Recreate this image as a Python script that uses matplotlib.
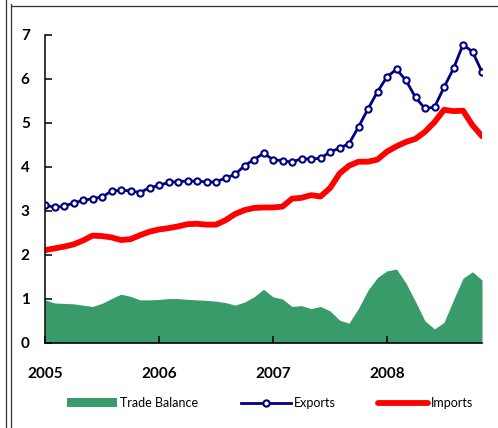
import matplotlib
matplotlib.use("Agg")
import matplotlib.pyplot as plt
from matplotlib.lines import Line2D
import numpy as np

# monthly values, Jan 2005 .. Nov 2008
exports = [3.14, 3.08, 3.11, 3.18, 3.24, 3.28, 3.32, 3.45, 3.47, 3.46, 3.42, 3.53,
           3.58, 3.65, 3.67, 3.68, 3.68, 3.66, 3.66, 3.75, 3.83, 4.03, 4.17, 4.31,
           4.17, 4.14, 4.11, 4.19, 4.18, 4.20, 4.34, 4.43, 4.53, 4.91, 5.32, 5.71,
           6.05, 6.22, 5.97, 5.58, 5.33, 5.36, 5.81, 6.24, 6.78, 6.62, 6.16]
imports = [2.11, 2.15, 2.19, 2.24, 2.33, 2.44, 2.43, 2.40, 2.34, 2.36, 2.45, 2.53,
           2.58, 2.61, 2.65, 2.70, 2.71, 2.69, 2.69, 2.79, 2.93, 3.02, 3.07, 3.08,
           3.08, 3.10, 3.28, 3.30, 3.36, 3.33, 3.52, 3.85, 4.03, 4.12, 4.12, 4.17,
           4.35, 4.47, 4.57, 4.64, 4.80, 5.02, 5.30, 5.27, 5.28, 4.95, 4.70]
trade_balance = [0.98, 0.91, 0.90, 0.89, 0.86, 0.83, 0.90, 1.01, 1.11, 1.06, 0.98, 0.98,
                 0.99, 1.01, 1.01, 0.99, 0.98, 0.97, 0.95, 0.92, 0.86, 0.93, 1.05, 1.22,
                 1.05, 1.00, 0.83, 0.85, 0.78, 0.83, 0.73, 0.52, 0.45, 0.79, 1.20, 1.49,
                 1.64, 1.68, 1.36, 0.94, 0.50, 0.32, 0.47, 0.98, 1.47, 1.62, 1.43]
year_ticks = [0, 12, 24, 36]
year_labels = ["2005", "2006", "2007", "2008"]

months = np.arange(len(exports))

plt.rcParams['font.family'] = ['Lato', 'DejaVu Sans']

fig = plt.figure(figsize=(4.98, 4.28), dpi=100)
ax = fig.add_axes([45/498, 85/428, 437/498, 308/428])

ax.fill_between(months, 0, trade_balance, color='#389B69', linewidth=0,
                label='Trade Balance')
ax.plot(months, exports, color='#000080', lw=2, marker='o', ms=4.5,
        mfc='white', mec='#000080', mew=1.5, label='Exports')
ax.plot(months, imports, color='#FF0000', lw=4.2, solid_capstyle='round',
        label='Imports')

ax.set_xlim(0, 46)
ax.set_ylim(0, 7)
ax.set_xticks(year_ticks)
ax.set_xticklabels(year_labels, fontweight='bold', fontsize=11)
ax.set_yticks(range(8))
ax.set_yticklabels([str(v) for v in range(8)], fontweight='bold', fontsize=11)
ax.tick_params(axis='x', direction='in', length=5, width=1.1, pad=17)
ax.tick_params(axis='y', direction='in', length=5, width=1.1, pad=11)
for s in ['top', 'right']:
    ax.spines[s].set_visible(False)
for s in ['left', 'bottom']:
    ax.spines[s].set_linewidth(1.1)

handles, labels = ax.get_legend_handles_labels()
fig.legend(handles, labels, loc='center left', bbox_to_anchor=(67/498, 25/428),
           ncol=3, frameon=False, fontsize=9, handlelength=4.0,
           handletextpad=0.25, columnspacing=3.4, borderpad=0, borderaxespad=0)

# outer frame lines
fig.add_artist(Line2D([6/498, 6/498], [0, 1], color='#333333', lw=0.9))
fig.add_artist(Line2D([11/498, 11/498], [0, 1 - 4/428], color='#333333', lw=0.9))
fig.add_artist(Line2D([11/498, 1], [1 - 6/428, 1 - 6/428], color='#333333', lw=0.9))

fig.savefig("out.png", dpi=100)
